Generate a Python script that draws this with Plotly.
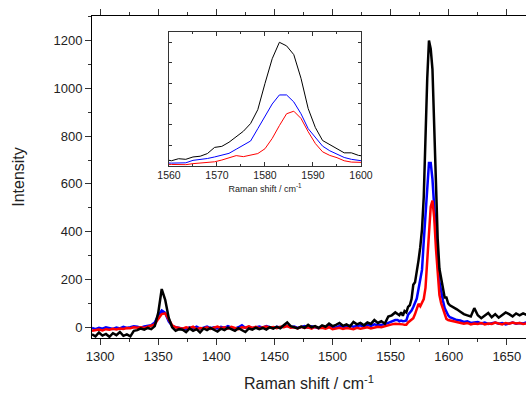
import numpy as np
import plotly.graph_objects as go

# ---- data ----
x_a = np.arange(1293, 1330, 3)      # 13 pts
x_b = np.arange(1332, 1370, 3)      # 13 pts
x_c = np.arange(1371, 1555, 3)      # 62 pts
x_d = np.arange(1556, 1602, 1.5)    # 31 pts
x_e = np.arange(1604, 1668, 3)      # 22 pts
raman_shift = np.concatenate([x_a, x_b, x_c, x_d, x_e])

black_a = [-30, -38, -22, -35, -28, -40, -25, -33, -20, -36, -30, -38, -15]
black_b = [-12, -5, -10, -3, -8, 5, 60, 160, 115, 40, 0, -15, -8]
black_c = [-10, -20, -5, -15, -8, -22, -5, -12, -3, -10,
           -18, -6, -12, -2, -9, -15, -4, -12, -20, -5,
           -10, -2, -8, -3, -10, 0, -6, 2, -4, 8,
           20, 5, 0, -5, 3, -2, 10, 0, 5, -3,
           8, 2, 15, 5, 10, 18, 6, 12, 4, 22,
           12, 18, 8, 20, 14, 30, 18, 25, 15, 45,
           50, 62]
black_d = [55, 50, 62, 48, 68, 62, 85, 92, 118, 178, 188, 228, 280, 335, 410, 545,
           800, 1040, 1200, 1165, 1080, 850, 555, 370, 245, 205, 170, 125, 125, 100, 92]
black_e = [85, 75, 65, 55, 50, 45, 80, 50, 38, 50, 60, 42, 55, 40, 50, 62, 55, 45, 58, 50, 58, 52]

blue_a = [-3, -8, -2, -6, 0, -4, -7, -1, -5, 2, -3, 0, 4]
blue_b = [2, -2, 3, 5, 8, 20, 50, 70, 60, 25, 5, 0, -3]
blue_c = [-3, -8, 0, -5, 2, -6, -2, 3, -4, 0,
          -5, 2, -3, 5, -2, -6, 0, 8, -3, 2,
          -4, 0, 3, -2, 5, 0, -3, 2, -1, 4,
          6, 0, 3, -3, 2, 5, -2, 4, 0, -4,
          3, 0, 6, 2, -2, 5, 3, 0, 6, 2,
          5, 8, 3, 10, 6, 12, 8, 10, 12, 18,
          25, 30]
blue_d = [30, 25, 28, 25, 26, 28, 52, 60, 70, 85, 100, 120, 160, 200, 240, 360,
          480, 600, 688, 688, 620, 505, 360, 270, 190, 145, 112, 80, 62, 50, 42]
blue_e = [35, 30, 28, 22, 25, 18, 20, 22, 16, 20, 14, 18, 20, 15, 18, 12, 16, 20, 15, 18, 16, 20]

red_a = [-15, -12, -10, -13, -8, -10, -6, -9, -5, -7, -3, -4, 0]
red_b = [-2, 0, -3, 2, 5, 12, 35, 55, 58, 30, 8, 0, -4]
red_c = [-6, 0, -4, 2, -8, -3, -5, 0, -7, -2,
         3, -4, 0, -6, 2, -3, -8, 0, -2, 4,
         -3, 2, -5, 0, 3, -2, 1, -4, 2, 0,
         5, -2, 0, -5, 2, -3, 0, -6, 2, -4,
         -2, -6, 0, -8, -4, -2, -7, -3, -5, -8,
         -2, -6, -3, 0, -5, -2, 2, 0, 5, 8,
         12, 15]
red_d = [15, 12, 14, 12, 10, 10, 20, 25, 32, 38, 55, 80, 98, 88, 105, 118,
         165, 265, 390, 505, 530, 460, 330, 215, 135, 100, 78, 48, 35, 30, 28]
red_e = [24, 20, 18, 15, 18, 12, 16, 14, 18, 12, 16, 14, 20, 16, 12, 18, 15, 20, 16, 18, 14, 16]

black = black_a + black_b + black_c + black_d + black_e
blue = blue_a + blue_b + blue_c + blue_d + blue_e
red = red_a + red_b + red_c + red_d + red_e
assert len(black) == len(blue) == len(red) == len(raman_shift), (len(black), len(blue), len(red), len(raman_shift))

series = [("blue", blue, "#0000ff"), ("red", red, "#ff0000"), ("black", black, "#000000")]

fig = go.Figure()
for name, ys, col in series:
    fig.add_trace(go.Scatter(x=raman_shift, y=ys, mode="lines", name=name,
                             line=dict(color=col, width=2.5), xaxis="x", yaxis="y"))
for name, ys, col in series:
    fig.add_trace(go.Scatter(x=raman_shift, y=ys, mode="lines", name=name + " inset",
                             line=dict(color=col, width=1), xaxis="x2", yaxis="y2"))

font_family = "Liberation Sans, Arial, sans-serif"
fig.update_layout(
    width=526, height=394,
    margin=dict(l=92, r=0, t=16, b=56),
    paper_bgcolor="white", plot_bgcolor="white",
    showlegend=False,
    font=dict(family=font_family, color="#222222", size=13),
    xaxis=dict(range=[1293, 1666.5], dtick=50, tick0=1300, ticks="outside", ticklen=6,
               tickwidth=1, tickcolor="#333", showline=True, linecolor="black", linewidth=1,
               mirror="ticks", showgrid=False, zeroline=False, automargin=False,
               minor=dict(dtick=25, ticks="outside", ticklen=3, tickcolor="#333"),
               tickfont=dict(size=13),
               title=dict(text="Raman shift / cm<sup>-1</sup>", font=dict(size=16), standoff=15)),
    yaxis=dict(range=[-45, 1303], dtick=200, tick0=0, ticks="outside", ticklen=6,
               tickwidth=1, tickcolor="#333", showline=True, linecolor="black", linewidth=1,
               showgrid=False, zeroline=False, automargin=False,
               minor=dict(dtick=100, ticks="outside", ticklen=3, tickcolor="#333"),
               tickfont=dict(size=13),
               title=dict(text="Intensity", font=dict(size=16), standoff=24)),
    xaxis2=dict(domain=[0.1774, 0.6198], anchor="y2", range=[1560, 1600], dtick=10,
                ticks="inside", ticklen=4, tickcolor="#333", showline=True, linecolor="#333",
                linewidth=1, mirror="allticks", showgrid=False, zeroline=False, automargin=False,
                minor=dict(dtick=5, ticks="inside", ticklen=2, tickcolor="#333"),
                tickfont=dict(size=10.5),
                title=dict(text="Raman shift / cm<sup>-1</sup>", font=dict(size=9), standoff=5)),
    yaxis2=dict(domain=[0.5351, 0.9503], anchor="x2", range=[0, 1300], dtick=200,
                ticks="inside", ticklen=3, tickcolor="#333", showline=True, linecolor="#333",
                linewidth=1, mirror="allticks", showgrid=False, zeroline=False, automargin=False,
                showticklabels=False),
)

fig.write_html("out.html", config={"displayModeBar": False},
               post_script="document.body.style.margin='0';document.body.style.overflow='hidden';")
